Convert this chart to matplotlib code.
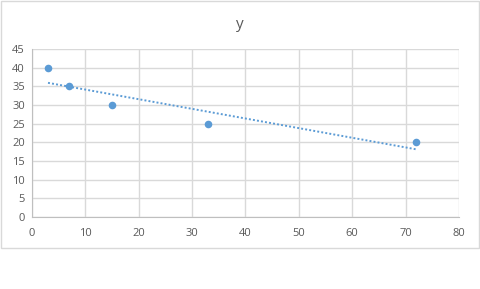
import matplotlib
matplotlib.use('Agg')
import matplotlib.pyplot as plt
import numpy as np
from matplotlib.patches import Rectangle

x_vals = [3, 7, 15, 33, 72]
y_vals = [40, 35, 30, 25, 20]
x_ticks = [0, 10, 20, 30, 40, 50, 60, 70, 80]
y_ticks = [0, 5, 10, 15, 20, 25, 30, 35, 40, 45]

blue = '#5b9bd5'
txt = '#595959'
grid = '#d9d9d9'

plt.rcParams['font.family'] = ['Open Sans', 'DejaVu Sans']

fig = plt.figure(figsize=(4.8, 2.89), dpi=100)
ax = fig.add_axes([32/480, 1 - 217/289, (459-32)/480, (217-49)/289])

# chart area border
fig.patches.append(Rectangle((0.5/480, 1 - 248/289), 478/480, 247.5/289,
                             transform=fig.transFigure, fill=False,
                             edgecolor=grid, linewidth=1))

ax.scatter(x_vals, y_vals, s=30, color=blue, zorder=3, linewidths=0)

# linear trendline
slope, icpt = np.polyfit(x_vals, y_vals, 1)
xt = np.array([min(x_vals), max(x_vals)])
ax.plot(xt, slope * xt + icpt, color=blue, linewidth=1.4,
        linestyle=(0, (1, 1.1)), zorder=2)

ax.set_xlim(0, 80)
ax.set_ylim(0, 45)
ax.set_xticks(x_ticks)
ax.set_yticks(y_ticks)
ax.grid(True, color=grid, linewidth=1)
ax.set_axisbelow(True)
for s in ['top', 'right']:
    ax.spines[s].set_visible(False)
for s in ['left', 'bottom']:
    ax.spines[s].set_color('#bfbfbf')
ax.tick_params(length=0, colors=txt, labelsize=8)
ax.tick_params(axis='x', pad=8)
ax.tick_params(axis='y', pad=5)

fig.text(0.5, 1 - 25/289, 'y', ha='center', va='center', color=txt, fontsize=11)

fig.savefig('out.png', dpi=100)
